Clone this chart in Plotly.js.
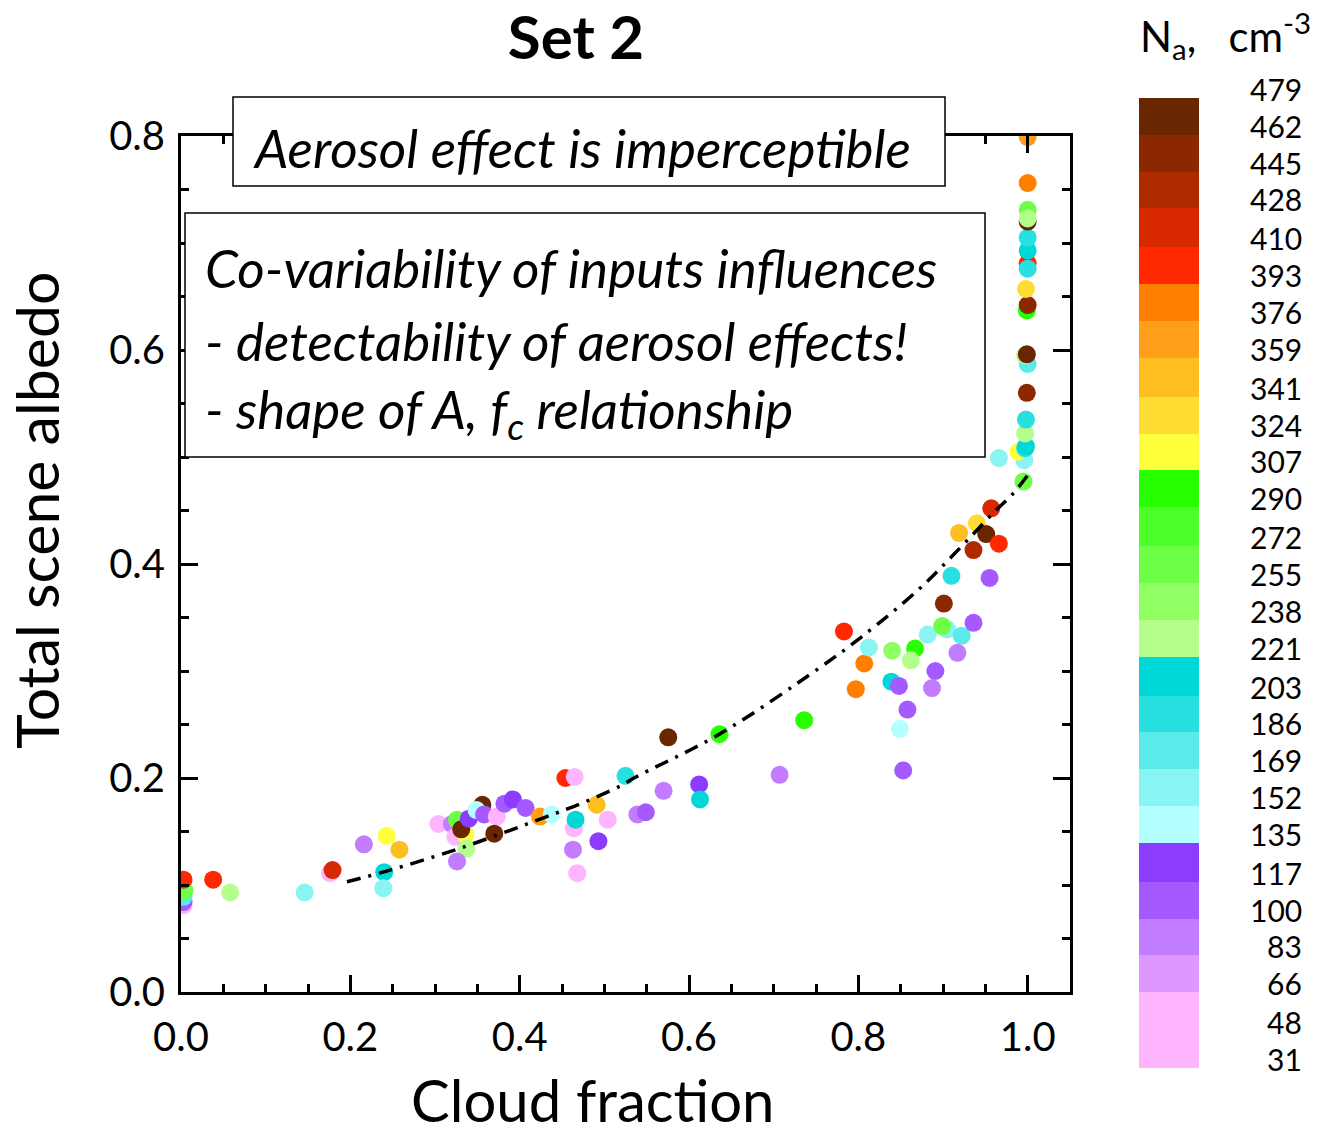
<!DOCTYPE html>
<html>
<head>
<meta charset="utf-8">
<script src="https://cdn.plot.ly/plotly-3.0.1.min.js"></script>
<style>
html,body{margin:0;padding:0;background:#fff;}
#chart{width:1320px;height:1138px;}
</style>
</head>
<body>
<div id="chart"></div>
<script>
// ---- data ----
const cloudFraction = [0.003,0.003,0.003,0.004,0.003,0.038,0.058,0.146,0.176,0.179,
  0.216,0.243,0.258,0.240,0.239,0.304,0.320,0.326,0.324,0.336,
  0.331,0.337,0.326,0.340,0.356,0.349,0.358,0.373,0.370,0.382,
  0.392,0.407,0.424,0.438,0.454,0.465,0.464,0.466,0.463,0.468,
  0.491,0.504,0.493,0.525,0.539,0.549,0.570,0.5755,0.612,0.613,
  0.636,0.707,0.736,0.783,0.797,0.807,0.8125,0.840,0.867,0.862,
  0.839,0.848,0.858,0.849,0.853,0.882,0.905,0.899,0.922,0.936,
  0.917,0.891,0.887,0.901,0.910,0.955,0.919,0.940,0.936,0.951,
  0.966,0.957,0.966,0.995,0.996,0.989,0.997,0.998,0.997,0.998,
  0.999,1.000,0.997,0.999,0.999,1.000,0.998,1.000,1.000,1.000,
  1.000,1.000,1.000,1.000,1.000,1.000];
const albedo = [0.081,0.084,0.089,0.095,0.105,0.105,0.093,0.093,0.111,0.114,
  0.138,0.146,0.133,0.112,0.097,0.157,0.157,0.161,0.145,0.147,
  0.152,0.134,0.122,0.162,0.175,0.170,0.166,0.164,0.148,0.176,
  0.180,0.172,0.164,0.166,0.200,0.201,0.153,0.161,0.133,0.111,
  0.175,0.161,0.141,0.202,0.166,0.168,0.188,0.238,0.194,0.180,
  0.241,0.203,0.254,0.337,0.283,0.307,0.322,0.319,0.321,0.310,
  0.290,0.286,0.264,0.246,0.207,0.334,0.339,0.342,0.333,0.345,
  0.317,0.300,0.284,0.363,0.389,0.387,0.429,0.438,0.413,0.428,
  0.419,0.452,0.499,0.477,0.497,0.505,0.508,0.510,0.522,0.535,
  0.560,0.587,0.595,0.596,0.637,0.642,0.657,0.681,0.676,0.693,
  0.705,0.720,0.731,0.723,0.756,0.799];
const aerosolNa = [57,108,177,264,402,402,229,160,40,419,
  91,315,350,212,160,40,91,264,57,315,
  470,229,91,126,470,143,108,40,470,108,
  126,108,367,143,402,40,57,212,91,40,
  350,40,126,195,91,108,91,470,126,212,
  298,91,298,402,384,384,160,246,298,229,
  212,108,108,143,108,160,160,264,177,108,
  91,108,91,453,195,108,350,333,436,470,
  402,419,160,264,160,315,195,212,229,195,
  453,177,229,470,298,453,333,402,195,212,
  195,470,264,229,384,367];
// dash-dot fit line
const fitCf = [0.196,0.243,0.332,0.429,0.472,0.520,0.535,0.636,0.756,0.804,0.871,0.914,0.961,0.983,1.000];
const fitAlbedo = [0.103,0.113,0.135,0.163,0.176,0.193,0.200,0.241,0.304,0.332,0.376,0.410,0.449,0.466,0.483];
// colour bar: bin edges (also tick labels) and bin colours, low to high
const naEdges = [31,48,66,83,100,117,135,152,169,186,203,221,238,255,272,290,307,324,341,359,376,393,410,428,445,462,479];
const naColors = ['#FFB4FF','#FFB4FF','#E096FF','#C17CFF','#A55AFF','#8C3CFF',
  '#B4FFFF','#88F4F4','#5AEAEA','#28E0E0','#00D8D8',
  '#B4FF8C','#90FF64','#6CFF46','#4CFF28','#28FF00',
  '#FFFF3C','#FFDC32','#FFBE20','#FF9E1A','#FF8000',
  '#FF2800','#D82800','#B02A00','#8B2800','#692600'];
const boxLines = ['<i>Co-variability of inputs influences</i>',
  '<i>- detectability of aerosol effects!</i>',
  '<i>- shape of A, f<sub>c</sub> relationship</i>'];
const xTitle = 'Cloud fraction';
const yTitle = 'Total scene albedo';

// ---- build ----
const W = 1320, H = 1138;
const px = v => v / W, py = v => 1 - v / H;
const nBins = naColors.length;
const cscale = [];
naColors.forEach((c, i) => { cscale.push([i / nBins, c]); cscale.push([(i + 1) / nBins, c]); });
const cmin = naEdges[0], cmax = naEdges[naEdges.length - 1];
const binMids = naColors.map((c, i) => [(naEdges[i] + naEdges[i + 1]) / 2]);

const FONT = 'Lato, "Open Sans", sans-serif';
const NB = '\u00a0';

const traces = [
  {
    type: 'scatter', mode: 'markers', x: cloudFraction, y: albedo,
    marker: { size: 18, color: aerosolNa, cmin: cmin, cmax: cmax, colorscale: cscale, showscale: false, line: { width: 0 }, opacity: 1 },
    hoverinfo: 'skip', showlegend: false
  },
  {
    type: 'scatter', mode: 'lines', x: fitCf, y: fitAlbedo,
    line: { color: '#000', width: 3.5, dash: '14px,8px,3px,8px', shape: 'spline' },
    hoverinfo: 'skip', showlegend: false
  },
  {
    type: 'heatmap', x: [0], y: naEdges, z: binMids, zmin: cmin, zmax: cmax,
    colorscale: cscale, showscale: false, xaxis: 'x2', yaxis: 'y2', hoverinfo: 'skip'
  }
];

const axisCommon = {
  showline: true, linewidth: 3, linecolor: '#000', mirror: 'allticks',
  ticks: 'inside', ticklen: 17, tickwidth: 3, tickcolor: '#000',
  showgrid: false, zeroline: false, tickformat: '.1f',
  tickfont: { family: FONT, size: 40, color: '#000' },
  minor: { dtick: 0.05, ticks: 'inside', ticklen: 8, tickwidth: 3, tickcolor: '#000', showgrid: false }
};

const annotations = [
  { text: '<i>Aerosol effect is imperceptible</i>', xref: 'paper', yref: 'paper', x: px(251), y: py(147),
    xanchor: 'left', yanchor: 'middle', showarrow: false, font: { family: FONT, size: 53, color: '#000' } },
  { text: 'N<sub>a</sub>,' + NB + NB + NB + 'cm<sup>-3</sup>', xref: 'paper', yref: 'paper', x: px(1138), y: py(36),
    xanchor: 'left', yanchor: 'middle', showarrow: false, font: { family: FONT, size: 42, color: '#000' } },
  // axis titles (placed as in the reference, off the plot centre)
  { text: xTitle, xref: 'paper', yref: 'paper', x: px(592), y: py(1099),
    xanchor: 'center', yanchor: 'middle', showarrow: false, font: { family: FONT, size: 58, color: '#000' } },
  { text: yTitle, xref: 'paper', yref: 'paper', x: px(36), y: py(510), textangle: -90,
    xanchor: 'center', yanchor: 'middle', showarrow: false, font: { family: FONT, size: 59, color: '#000' } }
];
const lineY = [268, 340, 412];
boxLines.forEach((t, i) => annotations.push({
  text: t, xref: 'paper', yref: 'paper', x: px(203), y: py(lineY[i]),
  xanchor: 'left', yanchor: 'middle', showarrow: false, font: { family: FONT, size: 53, color: '#000' }
}));
naEdges.forEach(v => annotations.push({
  text: String(v), xref: 'paper', yref: 'y2', x: px(1304), y: v, yshift: 9,
  xanchor: 'right', yanchor: 'middle', showarrow: false, font: { family: FONT, size: 30, color: '#000' }
}));

const layout = {
  width: W, height: H,
  margin: { l: 0, r: 0, t: 0, b: 0 },
  paper_bgcolor: '#fff', plot_bgcolor: '#fff',
  font: { family: FONT, color: '#000' },
  title: { text: '<b>Set 2</b>', font: { family: FONT, size: 60, color: '#000', weight: 900 },
    xref: 'container', yref: 'container', x: px(576), y: py(38), xanchor: 'center', yanchor: 'middle' },
  xaxis: Object.assign({}, axisCommon, {
    domain: [px(181), px(1070)], range: [0, 1.05], tick0: 0, dtick: 0.2, ticklabelstandoff: 8
  }),
  yaxis: Object.assign({}, axisCommon, {
    domain: [py(992), py(136)], range: [0, 0.8], tick0: 0, dtick: 0.2, ticklabelstandoff: 5
  }),
  xaxis2: { domain: [px(1139), px(1199)], range: [-0.5, 0.5], visible: false, fixedrange: true, anchor: 'y2' },
  yaxis2: { domain: [py(1068), py(98)], range: [cmin, cmax], visible: false, fixedrange: true, anchor: 'x2' },
  shapes: [
    { type: 'rect', xref: 'paper', yref: 'paper', x0: px(233), x1: px(945), y0: py(186), y1: py(97),
      line: { color: '#000', width: 1.5 }, fillcolor: '#fff', layer: 'above' },
    { type: 'rect', xref: 'paper', yref: 'paper', x0: px(185), x1: px(985), y0: py(457), y1: py(213),
      line: { color: '#000', width: 1.5 }, fillcolor: '#fff', layer: 'above' }
  ],
  annotations: annotations
};

Plotly.newPlot('chart', traces, layout, { displayModeBar: false, staticPlot: true });
</script>
</body>
</html>
